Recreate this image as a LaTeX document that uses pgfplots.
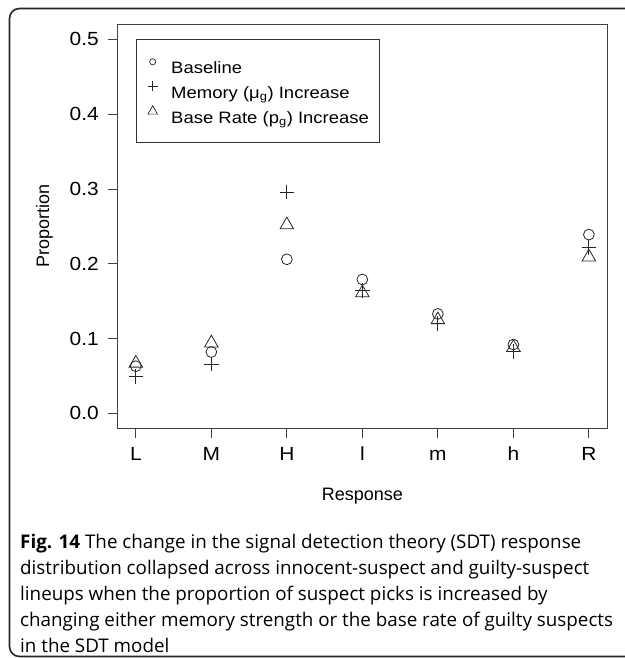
\documentclass[border=0pt]{standalone}
\usepackage{fontspec}
\setmainfont{Liberation Sans}
\newfontfamily\tickfont[FakeStretch=1.1]{Liberation Sans}
\newfontfamily\legfont[FakeStretch=1.12]{Liberation Sans}
\newfontfamily\capfont{Open Sans}
\usepackage{pgfplots}
\pgfplotsset{compat=1.18}

\begin{document}
\begin{tikzpicture}[x=1bp,y=1bp]
\path[use as bounding box] (-117.7,-229.7) rectangle (507.3,428.3);
\draw[line width=1.6bp, black!85, rounded corners=10bp] (560,419.8) -- (-108.2,419.8) -- (-108.2,-228.2) -- (560,-228.2);
\begin{axis}[
  at={(0,0)}, anchor=south west,
  scale only axis, width=489.3bp, height=403.8bp,
  xmin=0.76, xmax=7.24, ymin=-0.02, ymax=0.52,
  axis line style={black!75, line width=0.8bp},
  xtick={1,2,3,4,5,6,7}, xticklabels={L,M,H,l,m,h,R},
  ytick={0,0.1,0.2,0.3,0.4,0.5}, yticklabels={0.0,0.1,0.2,0.3,0.4,0.5},
  xtick pos=left, ytick pos=left,
  tick align=outside, major tick length=9.5bp,
  tick style={black!75, line width=0.8bp},
  ticklabel style={font=\tickfont\fontsize{19bp}{22bp}\selectfont},
  xticklabel style={anchor=base, yshift=-23bp},
  yticklabel style={anchor=east, inner sep=0pt, xshift=-9.2bp},
  xlabel={Response}, ylabel={Proportion},
  label style={font=\fontsize{18bp}{20bp}\selectfont},
  xlabel style={at={(axis description cs:0.5,-0.1788)}, anchor=base},
  ylabel style={at={(axis description cs:-0.1404,0.5)}, anchor=base, rotate=0},
  legend style={at={(axis cs:1,0.5)}, anchor=north west, draw=black!80, line width=0.8bp,
    font=\legfont\fontsize{16.5bp}{19bp}\selectfont, inner xsep=10bp, inner ysep=18.8bp,
    row sep=7.7bp, column sep=0bp,
    nodes={inner sep=0pt, text height=11.8bp, text depth=0bp}},
  legend cell align=left,
  legend image code/.code={\path[draw=none] (0bp,0bp) rectangle (25bp,0bp); \draw[#1] plot coordinates {(6.5bp,5.9bp)};},
]
\addlegendimage{black!85, line width=0.7bp, mark=o, mark size=3.1bp}
\addlegendentry{Baseline}
\addlegendimage{black!85, line width=0.7bp, mark=+, mark size=5bp}
\addlegendentry{Memory (μ\textsubscript{g}) Increase}
\addlegendimage{black!85, line width=0.7bp, mark=triangle, mark size=5.6bp}
\addlegendentry{Base Rate (p\textsubscript{g}) Increase}

% Baseline
\addplot[forget plot, only marks, black!85, line width=0.8bp, mark=o, mark size=5.4bp] coordinates {
(1,0.063) (2,0.082) (3,0.206) (4,0.179) (5,0.133) (6,0.092) (7,0.239)};
% Memory increase
\addplot[forget plot, only marks, black!85, line width=0.8bp, mark=+, mark size=7.3bp] coordinates {
(1,0.049) (2,0.066) (3,0.296) (4,0.164) (5,0.120) (6,0.083) (7,0.222)};
% Base rate increase
\addplot[forget plot, only marks, black!85, line width=0.8bp, mark=triangle, mark size=7.8bp] coordinates {
(1,0.067) (2,0.094) (3,0.252) (4,0.161) (5,0.125) (6,0.088) (7,0.209)};
\end{axis}
\begin{scope}[every node/.style={anchor=base west, inner sep=0pt, font=\capfont\fontsize{18.8bp}{22bp}\selectfont}]
\node at (-97.7,-119.7) {\textbf{Fig. 14} The change in the signal detection theory (SDT) response};
\node at (-97.7,-145.7) {distribution collapsed across innocent-suspect and guilty-suspect};
\node at (-97.7,-171.7) {lineups when the proportion of suspect picks is increased by};
\node at (-97.7,-197.7) {changing either memory strength or the base rate of guilty suspects};
\node at (-97.7,-223.7) {in the SDT model};
\end{scope}
\end{tikzpicture}
\end{document}
